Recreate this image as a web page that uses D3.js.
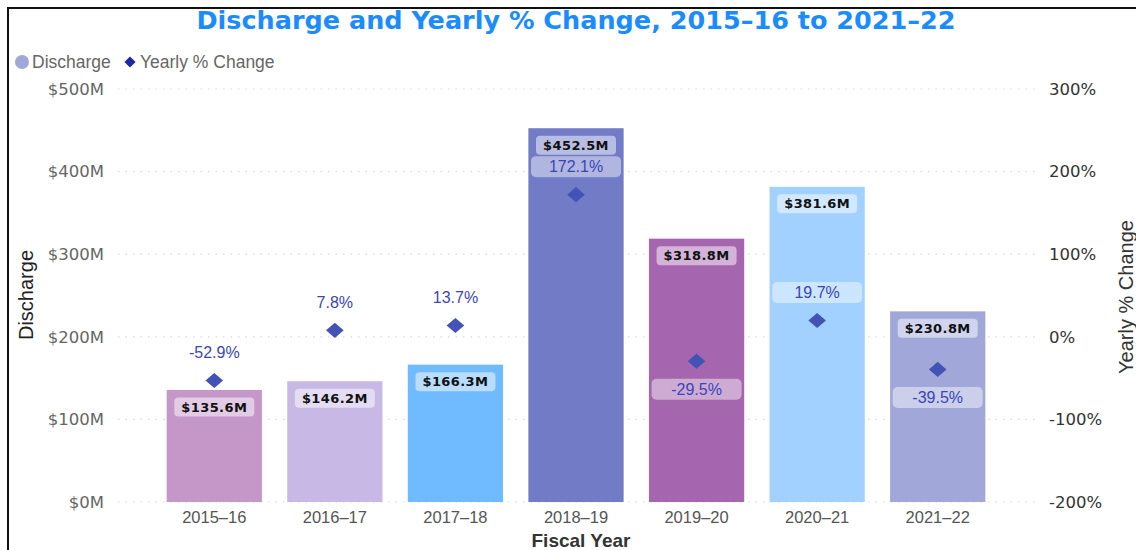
<!DOCTYPE html>
<html>
<head>
<meta charset="utf-8">
<script src="https://cdn.jsdelivr.net/npm/d3@7"></script>
<style>
  body { margin: 0; background: #fff; }
  svg { display: block; }
</style>
</head>
<body>
<div id="chart"></div>
<script>
// discharge + yearly % change, bars on left axis, diamonds on right axis

const years = ["2015–16", "2016–17", "2017–18", "2018–19", "2019–20", "2020–21", "2021–22"];
const discharge = [135.6, 146.2, 166.3, 452.5, 318.8, 381.6, 230.8];   // $M
const yearlyChange = [-52.9, 7.8, 13.7, 172.1, -29.5, 19.7, -39.5];    // %
const pctLabelSide = ["above", "above", "above", "above", "below", "above", "below"];
const barColors = ["#C497C8", "#C8B8E6", "#70BAFF", "#717BC6", "#A666AF", "#A2D1FF", "#A1A8D9"];
const leftTicks = [0, 100, 200, 300, 400, 500];
const rightTicks = [-200, -100, 0, 100, 200, 300];

const width = 1136, height = 550;
const margin = {top: 89, right: 138, bottom: 48, left: 154};

const svg = d3.select("#chart").append("svg")
    .attr("width", width)
    .attr("height", height);

// frame (only top + left visible in the crop)
svg.append("path")
    .attr("d", `M8,${height} L8,8 L${width},8`)
    .attr("fill", "none")
    .attr("stroke", "#111")
    .attr("stroke-width", 2);

let x = d3.scaleBand()
    .domain(years)
    .range([margin.left, width - margin.right])
    .paddingInner(0.21)
    .paddingOuter(0.105);

let yLeft = d3.scaleLinear()
    .domain([0, 500])
    .range([height - margin.bottom, margin.top]);

let yRight = d3.scaleLinear()
    .domain([-200, 300])
    .range([height - margin.bottom, margin.top]);

// gridlines
svg.append("g").selectAll("line")
    .data(leftTicks)
    .join("line")
    .attr("x1", 118)
    .attr("x2", 1036)
    .attr("y1", d => yLeft(d))
    .attr("y2", d => yLeft(d))
    .attr("stroke", "#d9d9d9")
    .attr("stroke-width", 1.2)
    .attr("stroke-dasharray", "1.5,6");

// left axis
let leftAxis = d3.axisLeft(yLeft)
    .tickValues(leftTicks)
    .tickSize(0)
    .tickPadding(0)
    .tickFormat(d => "$" + d + "M");
let gL = svg.append("g")
    .attr("transform", "translate(104,0)")
    .call(leftAxis);
gL.select(".domain").remove();
gL.selectAll("text")
    .attr("font-family", "DejaVu Sans, sans-serif")
    .attr("font-size", 16.5)
    .attr("fill", "#666");

// right axis
let rightAxis = d3.axisRight(yRight)
    .tickValues(rightTicks)
    .tickSize(0)
    .tickPadding(0)
    .tickFormat(d => d + "%");
let gR = svg.append("g")
    .attr("transform", "translate(1049,0)")
    .call(rightAxis);
gR.select(".domain").remove();
gR.selectAll("text")
    .attr("font-family", "DejaVu Sans, sans-serif")
    .attr("font-size", 16.5)
    .attr("fill", "#333");

// x axis
let xAxis = d3.axisBottom(x).tickSize(0).tickPadding(0);
let gX = svg.append("g")
    .attr("transform", `translate(0,${height - margin.bottom + 9})`)
    .call(xAxis);
gX.select(".domain").remove();
gX.selectAll("text")
    .attr("font-family", "Liberation Sans Narrow, Liberation Sans, Arial, sans-serif")
    .attr("font-size", 16.5)
    .attr("fill", "#555");

// axis titles
svg.append("text")
    .attr("x", (margin.left + width - margin.right) / 2 + 5)
    .attr("y", 547)
    .attr("text-anchor", "middle")
    .attr("font-family", "Liberation Sans Narrow, Liberation Sans, Arial, sans-serif")
    .attr("font-size", 19)
    .attr("font-weight", "bold")
    .attr("fill", "#333")
    .text("Fiscal Year");

svg.append("text")
    .attr("transform", "translate(33,295) rotate(-90)")
    .attr("text-anchor", "middle")
    .attr("font-family", "Liberation Sans, Arial, sans-serif")
    .attr("font-size", 20)
    .attr("fill", "#222")
    .text("Discharge");

svg.append("text")
    .attr("transform", "translate(1133,297) rotate(-90)")
    .attr("text-anchor", "middle")
    .attr("font-family", "Liberation Sans, Arial, sans-serif")
    .attr("font-size", 20)
    .attr("fill", "#333")
    .text("Yearly % Change");

// bars
svg.append("g").selectAll("rect")
    .data(years)
    .join("rect")
    .attr("x", d => x(d))
    .attr("width", x.bandwidth())
    .attr("y", (d, i) => yLeft(discharge[i]))
    .attr("height", (d, i) => yLeft(0) - yLeft(discharge[i]))
    .attr("fill", (d, i) => barColors[i]);

// bar value labels
let barLab = svg.append("g").selectAll("g")
    .data(years)
    .join("g")
    .attr("transform", (d, i) => `translate(${x(d) + x.bandwidth() / 2},${yLeft(discharge[i]) + 17})`);
barLab.append("rect")
    .attr("x", -40).attr("y", -9.5)
    .attr("width", 80).attr("height", 19)
    .attr("rx", 4)
    .attr("fill", "#fff")
    .attr("fill-opacity", 0.5);
barLab.append("text")
    .attr("text-anchor", "middle")
    .attr("dy", "0.36em")
    .attr("font-family", "DejaVu Sans, sans-serif")
    .attr("font-size", 13)
    .attr("font-weight", "bold")
    .attr("letter-spacing", 0.4)
    .attr("fill", "#111")
    .text((d, i) => "$" + discharge[i].toFixed(1) + "M");

// diamonds
svg.append("g").selectAll("path")
    .data(years)
    .join("path")
    .attr("d", d3.symbol(d3.symbolDiamond2, 180))
    .attr("transform", (d, i) => `translate(${x(d) + x.bandwidth() / 2},${yRight(yearlyChange[i])}) scale(1.05,0.9)`)
    .attr("fill", "#4353B5");

// pct labels
let pctLab = svg.append("g").selectAll("g")
    .data(years)
    .join("g")
    .attr("transform", (d, i) => {
        let off = pctLabelSide[i] === "above" ? -28 : 28;
        return `translate(${x(d) + x.bandwidth() / 2},${yRight(yearlyChange[i]) + off})`;
    });
pctLab.append("rect")
    .attr("x", -45).attr("y", -10.5)
    .attr("width", 90).attr("height", 21)
    .attr("rx", 5)
    .attr("fill", "#fff")
    .attr("fill-opacity", 0.45);
pctLab.append("text")
    .attr("text-anchor", "middle")
    .attr("dy", "0.36em")
    .attr("font-family", "Liberation Sans, Arial, sans-serif")
    .attr("font-size", 16)
    .attr("fill", "#3A45B8")
    .text((d, i) => yearlyChange[i].toFixed(1) + "%");

// title
svg.append("text")
    .attr("x", 576)
    .attr("y", 29)
    .attr("text-anchor", "middle")
    .attr("font-family", "DejaVu Sans, Liberation Sans, Arial, sans-serif")
    .attr("font-size", 25.5)
    .attr("font-weight", "bold")
    .attr("fill", "#1A8CFF")
    .text("Discharge and Yearly % Change, 2015–16 to 2021–22");

// legend
let legend = svg.append("g").attr("transform", "translate(0,62)");
legend.append("circle")
    .attr("cx", 22).attr("cy", 0).attr("r", 7)
    .attr("fill", "#A1A8D9");
legend.append("text")
    .attr("x", 32).attr("dy", "0.35em")
    .attr("font-family", "Liberation Sans, Arial, sans-serif")
    .attr("font-size", 17.5)
    .attr("fill", "#666")
    .text("Discharge");
legend.append("path")
    .attr("d", d3.symbol(d3.symbolDiamond2, 80))
    .attr("transform", "translate(130,0)")
    .attr("fill", "#1F2A9E");
legend.append("text")
    .attr("x", 140).attr("dy", "0.35em")
    .attr("font-family", "Liberation Sans, Arial, sans-serif")
    .attr("font-size", 17.5)
    .attr("fill", "#666")
    .text("Yearly % Change");
</script>
</body>
</html>
